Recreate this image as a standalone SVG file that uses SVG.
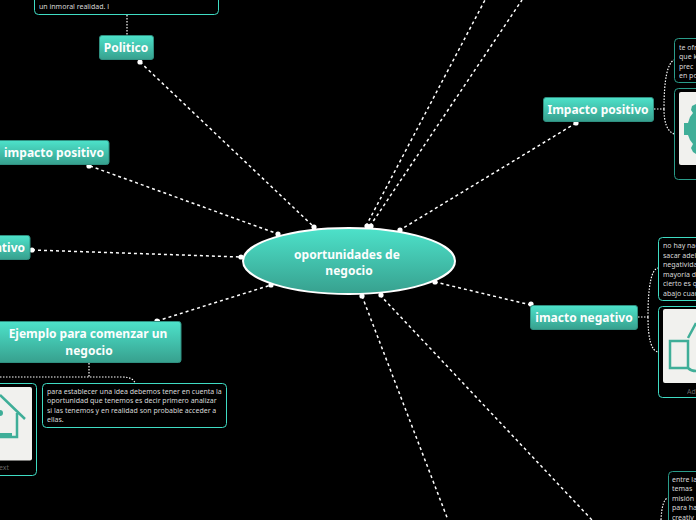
<svg xmlns="http://www.w3.org/2000/svg" width="696" height="520" viewBox="0 0 696 520">
<style>
text{font-family:"Noto Sans","Open Sans","DejaVu Sans",sans-serif;opacity:.99}
.t{font-weight:700;fill:#fff;font-size:12px;text-anchor:middle}
.b{fill:url(#g);stroke:#2f8f80;stroke-width:1}
.c{fill:none;stroke:#fff;stroke-width:1.5;stroke-dasharray:3 3}
.s{fill:none;stroke:#fff;stroke-width:1.2;stroke-dasharray:1.5 1.5}
.d{fill:#fff}
.n{font-size:7px;fill:#dcdcdc}
.x{fill:#000;stroke:#3fdcc4;stroke-width:1}
.y{fill:#000;stroke:#2a9c8a;stroke-width:1}
.i{fill:#f1f1ee}
.h{fill:none;stroke:#3fae98;stroke-width:2.500}
.m{font-size:7px;fill:#666}
</style>
<defs><linearGradient id="g" x1="0" y1="0" x2="0" y2="1"><stop offset="0" stop-color="#4de2ca"/><stop offset="1" stop-color="#37a08e"/></linearGradient></defs>
<rect width="696" height="520" fill="#000"/>
<g id="connectors">
<path class="c" d="M140 62L314 227M90 166L278 234M32 250L241 257M157 321L271 285M576 123L400 230M531 305L435 282M370 226L522 0M366 226L485 0M362 296L448 520M380 295L592 520"/>
<path class="s" d="M127 15V35M89 363V377M0 377H122Q133 377 135 383M654 109H664M664 109Q664 65 674 60M664 109Q664 130 674 134M638 317H648M648 317Q648 270 658 268M648 317Q648 350 658 352M661 520Q662 499 668 498"/>
<g class="d"><circle cx="140" cy="62" r="2.600"/><circle cx="89" cy="166" r="2.600"/><circle cx="32" cy="250" r="2.600"/><circle cx="157" cy="321" r="2.600"/><circle cx="576" cy="123" r="2.600"/><circle cx="531" cy="304" r="2.600"/><circle cx="314" cy="227" r="2.600"/><circle cx="278" cy="234" r="2.600"/><circle cx="241" cy="257" r="2.600"/><circle cx="271" cy="285" r="2.600"/><circle cx="400" cy="230" r="2.600"/><circle cx="435" cy="282" r="2.600"/><circle cx="367" cy="226" r="2.600"/><circle cx="371" cy="226" r="2.600"/><circle cx="362" cy="296" r="2.600"/><circle cx="381" cy="295" r="2.600"/></g>
</g>
<g id="center"><ellipse cx="349" cy="261" rx="106" ry="33" fill="url(#g)" stroke="#fff" stroke-width="2"/><text class="t" x="347" y="259">oportunidades de</text><text class="t" x="349" y="275">negocio</text></g>
<g id="politico"><rect class="b" x="99.500" y="35.500" width="54" height="24" rx="2.500"/><text class="t" x="126" y="52">Politico</text></g>
<g id="politico-note"><rect class="x" x="34.500" y="-20" width="184" height="34.500" rx="4"/><text class="n" x="39" y="9">un inmoral realidad. l</text></g>
<g id="impacto-izq"><rect class="b" x="-10" y="140.500" width="119" height="24" rx="2.500"/><text class="t" x="54" y="157">impacto positivo</text></g>
<g id="negativo-izq"><rect class="b" x="-60" y="235.500" width="90" height="24" rx="2.500"/><text class="t" x="25" y="252" style="text-anchor:end">negativo</text></g>
<g id="ejemplo"><rect class="b" x="-10" y="321.500" width="191" height="41" rx="2.500"/><text class="t" x="88" y="338">Ejemplo para comenzar un</text><text class="t" x="89" y="355">negocio</text></g>
<g id="ejemplo-note"><rect class="x" x="42.500" y="383.500" width="184" height="44" rx="4"/><text class="n" x="47" y="394">para establecer una idea debemos tener en cuenta la</text><text class="n" x="47" y="403">oportunidad que tenemos es decir primero analizar</text><text class="n" x="47" y="413">si las tenemos y en realidad son probable acceder a</text><text class="n" x="47" y="422">ellas.</text></g>
<g id="ejemplo-img"><rect class="x" x="-60" y="383.500" width="96.500" height="92" rx="4"/><rect class="i" x="-50" y="387" width="82" height="73.500" rx="2"/><path class="h" d="M0 395L25 419M17 413V437H0"/><path fill="#3fae98" d="M0 433H12V436H0ZM0 410A3 3 0 0 1 0 416Z"/><text class="m" x="-1" y="470">ext</text></g>
<g id="impacto-der"><rect class="b" x="543.500" y="97.500" width="110" height="24" rx="2.500"/><text class="t" x="598" y="114">Impacto positivo</text></g>
<g id="impacto-note"><rect class="y" x="674.500" y="38.500" width="60" height="44" rx="4"/><text class="n" x="679" y="50">te ofr</text><text class="n" x="679" y="59">que k</text><text class="n" x="679" y="69">prec</text><text class="n" x="679" y="78">en po</text></g>
<g id="impacto-img"><rect class="y" x="674.500" y="88.500" width="60" height="91" rx="4"/><rect class="i" x="679" y="92" width="40" height="73" rx="2"/><path fill="#3fae98" d="M696 104L692 106L691 110L693 113L690 117L688 123H684V135H688L690 140L693 144L691 148L693 152L696 154Z"/></g>
<g id="negativo-der"><rect class="b" x="530.500" y="305.500" width="107" height="24" rx="2.500"/><text class="t" x="584" y="322">imacto negativo</text></g>
<g id="negativo-note"><rect class="x" x="658.500" y="237.500" width="60" height="63" rx="4"/><text class="n" x="663" y="248">no hay nac</text><text class="n" x="663" y="258">sacar adel</text><text class="n" x="663" y="267">negativida</text><text class="n" x="663" y="277">mayoría d</text><text class="n" x="663" y="286">cierto es q</text><text class="n" x="663" y="296">abajo cuar</text></g>
<g id="negativo-img"><rect class="x" x="658.500" y="306.500" width="60" height="91" rx="4"/><rect class="i" x="663" y="309" width="50" height="74" rx="2"/><path class="h" d="M670 341H688V368H670ZM688 338L696 323M688 368Q691 371 696 371"/><text class="m" x="687" y="394">Ad</text></g>
<g id="bottom-note"><rect class="y" x="668.500" y="471.500" width="60" height="60" rx="4"/><text class="n" x="672" y="482">entre la</text><text class="n" x="672" y="491">temas</text><text class="n" x="672" y="501">misión</text><text class="n" x="672" y="510">para ha</text><text class="n" x="672" y="520">creativ</text></g>
</svg>
